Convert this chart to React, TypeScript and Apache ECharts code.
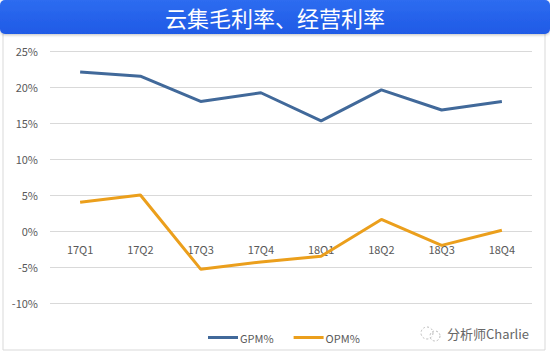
import React, { useEffect, useRef } from "react";
import * as echarts from "echarts";

const categories = ["17Q1", "17Q2", "17Q3", "17Q4", "18Q1", "18Q2", "18Q3", "18Q4"];
const gpm = [22.1, 21.5, 18.0, 19.2, 15.3, 19.6, 16.8, 18.0];
const opm = [4.0, 5.0, -5.3, -4.3, -3.5, 1.6, -2.0, 0.1];
const seriesNames = ["GPM%", "OPM%"];
const titleText = "云集毛利率、经营利率";
const watermarkText = "分析师Charlie";

export default function App() {
  const ref = useRef<HTMLDivElement>(null);
  useEffect(() => {
    if (!ref.current) return;
    const chart = echarts.init(ref.current, null, { renderer: "svg" });
    const font = "'Microsoft YaHei', 'Noto Sans CJK SC', sans-serif";
    chart.setOption({
      animation: false,
      backgroundColor: "#ffffff",
      graphic: [
        {
          type: "rect",
          shape: { x: 3, y: 30, width: 542, height: 320 },
          style: { fill: "#ffffff", stroke: "#d9d9d9", lineWidth: 1 },
          z: -10,
        },
        {
          type: "rect",
          shape: { x: 0, y: 0, width: 550, height: 34, r: 5 },
          style: {
            fill: new echarts.graphic.LinearGradient(0, 0, 0, 1, [
              { offset: 0, color: "#2d6cf0" },
              { offset: 1, color: "#1f5ae6" },
            ]),
            shadowColor: "rgba(0,0,0,0.25)",
            shadowBlur: 3,
            shadowOffsetY: 1,
          },
          z: 10,
        },
        {
          type: "text",
          x: 275,
          y: 17,
          style: {
            text: titleText,
            fill: "#ffffff",
            font: `22px ${font}`,
            align: "center",
            verticalAlign: "middle",
          },
          z: 11,
        },
        {
          type: "group",
          x: 430,
          y: 333,
          children: [
            { type: "circle", shape: { cx: -3, cy: 0, r: 6 }, style: { fill: "none", stroke: "#bbbbbb", lineWidth: 1, lineDash: [2, 2] } },
            { type: "circle", shape: { cx: 5, cy: 3, r: 5 }, style: { fill: "none", stroke: "#bbbbbb", lineWidth: 1, lineDash: [2, 2] } },
          ],
        },
        {
          type: "text",
          x: 447,
          y: 333,
          style: {
            text: watermarkText,
            fill: "#666666",
            font: `13px ${font}`,
            align: "left",
            verticalAlign: "middle",
          },
        },
      ],
      legend: {
        data: seriesNames,
        left: 203,
        top: 327,
        itemWidth: 30,
        itemHeight: 3,
        itemGap: 20,
        icon: "rect",
        textStyle: { color: "#595959", fontSize: 11, fontFamily: font, padding: [0, 0, 0, -3] },
      },
      grid: { left: 50, right: 18, top: 51, bottom: 52, containLabel: false },
      xAxis: {
        type: "category",
        data: categories,
        boundaryGap: true,
        offset: -72,
        axisLine: { show: false, onZero: false },
        axisTick: { show: false },
        axisLabel: { color: "#595959", fontSize: 11, fontFamily: font, margin: 12 },
      },
      yAxis: {
        type: "value",
        min: -10,
        max: 25,
        interval: 5,
        axisLine: { show: false },
        axisTick: { show: false },
        axisLabel: { color: "#595959", fontSize: 11, fontFamily: font, margin: 12, formatter: "{value}%" },
        splitLine: { lineStyle: { color: "#d9d9d9", width: 1 } },
      },
      series: [
        {
          name: seriesNames[0],
          type: "line",
          data: gpm,
          symbol: "none",
          lineStyle: { color: "#41699a", width: 3 },
          itemStyle: { color: "#41699a" },
        },
        {
          name: seriesNames[1],
          type: "line",
          data: opm,
          symbol: "none",
          lineStyle: { color: "#eb9f1c", width: 3 },
          itemStyle: { color: "#eb9f1c" },
        },
      ],
    });
    return () => chart.dispose();
  }, []);
  return (
    <div
      ref={ref}
      style={{ position: "fixed", left: 0, top: 0, width: 550, height: 355 }}
    />
  );
}
